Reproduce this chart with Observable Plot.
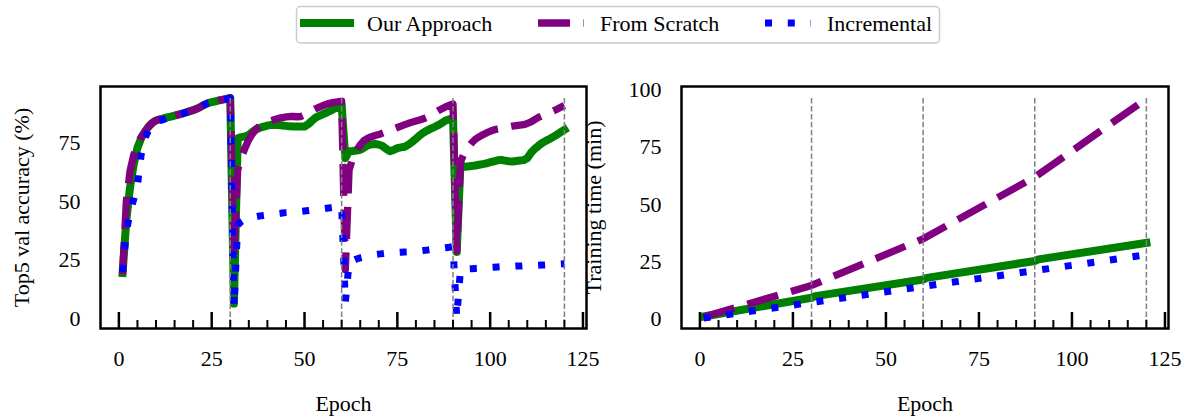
<!DOCTYPE html>
<html><head><meta charset="utf-8">
<script src="https://cdn.jsdelivr.net/npm/d3@7"></script>
<script src="https://cdn.jsdelivr.net/npm/@observablehq/plot@0.6"></script>
<style>
body{margin:0;background:#fff;}
#wrap{position:relative;width:1188px;height:417px;overflow:hidden;font-family:"Liberation Serif",serif;background:#fff;}
#wrap svg{position:absolute;}
</style></head><body><div id="wrap"></div>
<script>
// ---- data ----
const epochs = d3.range(1, 121);
const accOur = [
19.5,42,56,66,73,77,79.8,82,83.6,84.6,85.1,85.5,85.9,86.3,86.7,87.1,87.5,88,88.5,89,89.6,90.4,91.3,92,92.4,92.8,93.2,93.5,93.8,94.2,
6.5,77,77.5,77.8,78.5,79.8,80.8,81.5,82,82.4,82.7,82.8,82.7,82.5,82.3,82.1,82,82,82,82,83,84.5,85.8,86.6,87.3,88,88.8,89.6,90.5,91.3,
68.5,71.5,71.6,71.8,72.1,73,74,74.4,74.6,74.3,73.7,72.5,71.5,72,72.8,73.1,73.4,74.3,75.5,76.8,78.2,79.4,80.3,81.1,81.8,82.6,83.5,84.6,85.1,85.6,
28.5,66,64.8,65,65.2,65.4,65.7,66,66.3,66.8,67.2,67.6,67.8,67.5,67.2,67.1,67.3,67.5,67.7,68.5,70.8,72.5,73.8,75,75.9,76.7,77.6,78.6,79.6,80.6];
const accScratch = [
19,50,63,70,74.5,77.5,79.8,82,83.6,84.6,85.1,85.5,85.9,86.3,86.7,87.1,87.5,88,88.5,89,89.6,90.4,91.3,92,92.4,92.8,93.2,93.5,93.8,94.2,
27,63.5,69,73,76.5,79,81,82.3,83.2,84,84.5,85,85.5,85.8,86.1,86.3,86.3,86.2,86.3,87,88,88.8,89.6,90.3,91,91.6,92,92.3,92.6,92.8,
21,63.5,68.5,71.8,74.2,76,77,77.7,78.2,78.6,79.2,79.8,80.4,81,81.6,82.2,82.8,83.4,83.9,84.4,84.8,85.3,86,86.8,87.8,88.8,89.6,90.4,91.1,91.6,
29,67,70.5,73,75,76.6,77.6,78.5,79.3,80,80.6,81,81.3,81.6,81.9,82.2,82.4,82.6,82.8,83.3,84,85,85.9,86.6,87.3,88,88.7,89.4,90.2,91];
const accIncr = [
20,37,45.5,51,57,70,77,80.5,82.8,84,84.5,85,85.6,86.1,86.6,87,87.5,88,88.5,89,89.6,90.4,91.3,92,92.4,92.8,93.2,93.5,93.8,94.2,
5,40,41.5,42.5,43,43.3,43.6,43.9,44.1,44.3,44.5,44.7,44.9,45.1,45.3,45.4,45.5,45.6,45.8,46,46.2,46.4,46.6,46.8,47,47.2,47.4,47.6,47.8,48,
7,24,24.8,25.5,26,26.4,26.8,27.1,27.4,27.6,27.8,28,28.1,28.2,28.3,28.4,28.5,28.6,28.7,28.8,28.9,29.1,29.3,29.5,29.7,29.9,30.1,30.3,30.5,30.8,
0.5,21,21.2,21.3,21.4,21.5,21.6,21.7,21.8,21.9,22,22.1,22.2,22.3,22.4,22.4,22.5,22.5,22.6,22.6,22.7,22.7,22.8,22.9,23,23.1,23.2,23.3,23.4,23.5];

const timeEpochs  = [1, 30, 31, 60, 61, 90, 91, 120];
const timeOur     = [1.0, 9.2, 9.9, 17.2, 17.9, 25.3, 26.0, 33.2];
const timeScratch = [0.8, 14.6, 15.3, 35.0, 35.9, 62.0, 63.1, 96.2];
const timeIncr    = [0.3, 7.2, 7.4, 14.2, 14.4, 21.1, 21.3, 28.0];

const stageEnds   = [30, 60, 90, 120];
const xMajorTicks = [0, 25, 50, 75, 100, 125];
const xMinorTicks = [5,10,15,20,30,35,40,45,55,60,65,70,80,85,90,95,105,110,115,120];
const accTicks    = [0, 25, 50, 75];
const timeTicks   = [0, 25, 50, 75, 100];
const seriesNames = ["Our Approach", "From Scratch", "Incremental"];
const xLabel = "Epoch";
const accLabel = "Top5 val accuracy (%)";
const timeLabel = "Training time (min)";

// ---- styles ----
const styles = [
  {stroke: "#008000", strokeWidth: 8, strokeLinecap: "square"},
  {stroke: "#800080", strokeWidth: 7.3, strokeLinecap: "butt", strokeDasharray: "32,13.5"},
  {stroke: "#0000ff", strokeWidth: 7, strokeLinecap: "butt", strokeDasharray: "7,15.8"}
];
const wrap = document.getElementById("wrap");

function panel(xs, seriesVals, o) {
  const height = 367, marginTop = 36, marginBottom = 89;
  const frameH = height - marginTop - marginBottom;
  const marks = [];
  seriesVals.forEach((vals, k) => {
    const rows = xs.map((x, i) => ({x, y: vals[i]}));
    marks.push(Plot.line(rows, {x: "x", y: "y", strokeLinejoin: "round", ...styles[k]}));
  });
  marks.push(Plot.ruleX(stageEnds, {x: d => d, stroke: "#808080", strokeWidth: 1.5, strokeDasharray: "5.5,2.4", insetTop: frameH * 0.05}));
  marks.push(Plot.tickX(xMinorTicks, {x: d => d, stroke: "black", strokeWidth: 2, insetTop: frameH - 8}));
  marks.push(Plot.tickX(xMajorTicks, {x: d => d, stroke: "black", strokeWidth: 2.5, insetTop: frameH - 16}));
  marks.push(Plot.frame({stroke: "black", strokeWidth: 2.5}));
  marks.push(Plot.text([o.yLabel], {text: d => d, frameAnchor: "left", rotate: -90, dx: -(o.marginLeft - o.labelX), lineAnchor: "bottom", textAnchor: "middle", fill: "black", fontSize: 22}));
  marks.push(Plot.text([xLabel], {text: d => d, frameAnchor: "bottom", dy: 82, lineAnchor: "bottom", textAnchor: "middle", fill: "black", fontSize: 22}));
  const svg = Plot.plot({
    width: o.width, height, marginLeft: o.marginLeft, marginRight: o.marginRight, marginTop, marginBottom,
    style: {background: "transparent", overflow: "visible", fontFamily: '"Liberation Serif", serif', fontSize: "22px", color: "black"},
    x: {domain: [-4.95, 125.95], ticks: xMajorTicks, tickSize: 0, tickPadding: 22, tickFormat: d => String(d), label: null},
    y: {domain: o.yDomain, ticks: o.yTicks, tickSize: 0, tickPadding: 20, tickFormat: d => String(d), label: null},
    marks
  });
  svg.style.position = "absolute";
  svg.style.left = o.left + "px";
  svg.style.top = "50px";
  return svg;
}

wrap.appendChild(panel(epochs, [accOur, accScratch, accIncr],
  {left: 0, width: 594, marginLeft: 100, marginRight: 8, yDomain: [-4.14, 99.1], yTicks: accTicks, yLabel: accLabel, labelX: 28}));
wrap.appendChild(panel(timeEpochs, [timeOur, timeScratch, timeIncr],
  {left: 560, width: 628, marginLeft: 121, marginRight: 20, yDomain: [-4.24, 101.6], yTicks: timeTicks, yLabel: timeLabel, labelX: 40}));

// ---- legend ----
const leg = d3.create("svg").attr("width", 1188).attr("height", 50)
  .style("left", "0px").style("top", "0px");
leg.append("rect").attr("x", 296.5).attr("y", 6.5).attr("width", 643).attr("height", 36.5).attr("rx", 4)
  .attr("fill", "white").attr("stroke", "#cccccc").attr("stroke-width", 1.5);
const handleX = [304, 538, 765], textX = [367, 600, 827];
seriesNames.forEach((name, k) => {
  const s = styles[k];
  leg.append("line").attr("x1", handleX[k]).attr("x2", handleX[k] + 46).attr("y1", 23).attr("y2", 23)
    .attr("stroke", s.stroke).attr("stroke-width", s.strokeWidth).attr("stroke-linecap", s.strokeLinecap)
    .attr("stroke-dasharray", s.strokeDasharray || null);
  leg.append("text").attr("x", textX[k]).attr("y", 31).attr("font-family", '"Liberation Serif", serif')
    .attr("font-size", 22).attr("fill", "black").text(name);
});
wrap.appendChild(leg.node());
</script></body></html>
